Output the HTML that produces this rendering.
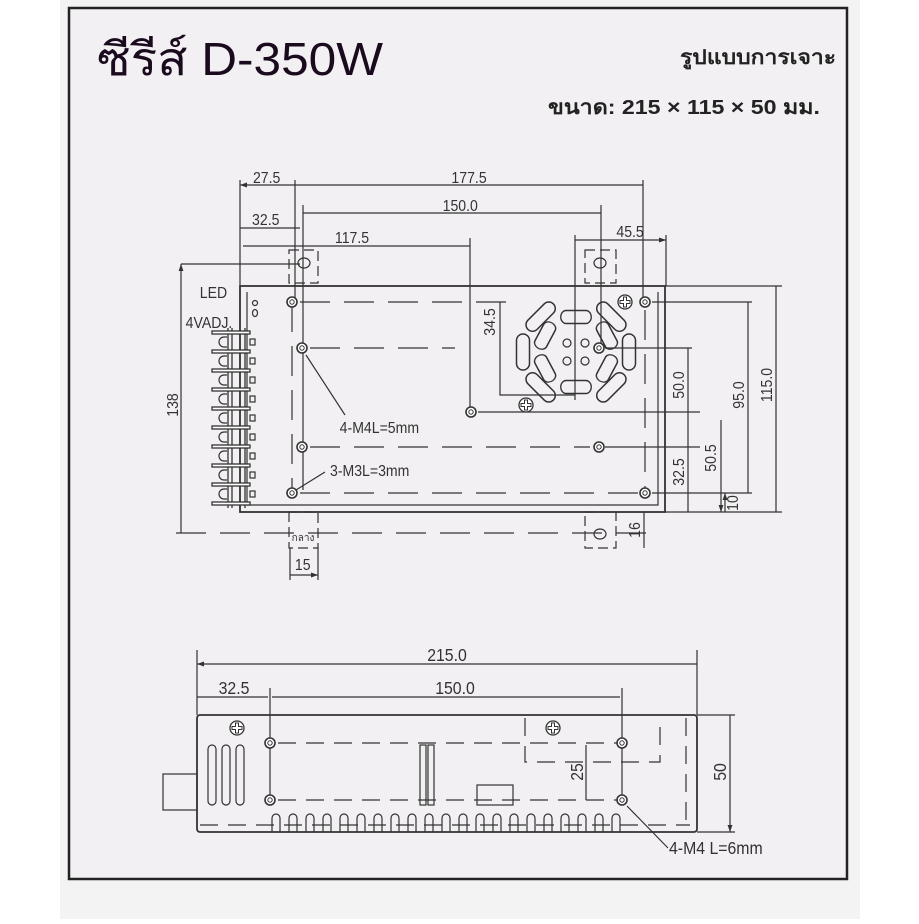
<!DOCTYPE html>
<html><head><meta charset="utf-8"><style>
html,body{margin:0;padding:0;background:#fff;}
body{width:919px;height:919px;overflow:hidden;position:relative;font-family:"Liberation Sans",sans-serif;}
</style></head><body>
<svg width="919" height="919" viewBox="0 0 919 919" xmlns="http://www.w3.org/2000/svg" font-family="Liberation Sans, Noto Sans CJK SC, sans-serif">
<defs>
<marker id="a" viewBox="0 0 10 10" refX="10" refY="5" markerWidth="7" markerHeight="7" orient="auto-start-reverse" markerUnits="userSpaceOnUse"><path d="M0,1.5 L10,5 L0,8.5 z" fill="#333"/></marker>
<g id="hole"><circle r="5" fill="#fff" stroke="#333" stroke-width="1.6"/><circle r="2.2" fill="none" stroke="#333" stroke-width="1"/></g>
<g id="screw"><circle r="7" fill="#fff" stroke="#333" stroke-width="1.3"/><path d="M-1.5,-5h3v3.5h3.5v3h-3.5v3.5h-3v-3.5h-3.5v-3h3.5z" fill="none" stroke="#333" stroke-width="1"/></g>
<rect id="slot" x="-18" y="-6.5" width="36" height="13" rx="6.5" fill="none" stroke="#333" stroke-width="1.5"/>
</defs>
<rect x="60" y="0" width="800" height="919" fill="#f3f3f3"/>
<rect x="69" y="8" width="778" height="871" fill="#f2f0f2" stroke="#222" stroke-width="2.5"/>
<text x="97" y="75" font-size="46" fill="#1a0a1e" textLength="286" lengthAdjust="spacingAndGlyphs" font-family="Liberation Sans, Noto Sans CJK SC, sans-serif">ซีรีส์ D-350W</text>
<text x="680" y="64" font-size="20" font-weight="bold" fill="#222" textLength="156" lengthAdjust="spacingAndGlyphs">รูปแบบการเจาะ</text>
<text x="548" y="114" font-size="20" font-weight="bold" fill="#222" textLength="272" lengthAdjust="spacingAndGlyphs">ขนาด: 215 × 115 × 50 มม.</text>

<g stroke="#333" stroke-width="1.2" fill="none">
<rect x="240" y="286" width="425" height="226" stroke-width="1.8"/>
<path d="M247,292 V505 H658 V292"/>
<path d="M240,180V286 M295,180V300 M643,180V300 M303,205V490 M601,205V350 M470,238V412 M575,235V400 M666,235V286"/>
<path d="M181,264H300 M665,286H782 M665,512H782 M652,302H752 M605,348H692 M478,412H700 M605,447H700 M652,493H752"/>
<path d="M240,185H295 M295,185H643 M303,213H601 M240,228H300 M243,246H470 M575,240H666" marker-start="url(#a)" marker-end="url(#a)"/>
<path d="M181,264V533 M776,286V512 M748,302V493 M688,348V447 M688,447V512 M721,420V512" marker-start="url(#a)" marker-end="url(#a)"/>
<path d="M725,493V512 M644,512V548 M290,575H318" marker-start="url(#a)" marker-end="url(#a)"/>
<path d="M500,302V395H575"/>
<g stroke-dasharray="30,14">
<path d="M300,302H520 M310,348H455 M310,447H590 M300,493H640 M176,533H650 M292,302V493 M645,310V493"/>
</g>
<rect x="289" y="250" width="29" height="33" stroke-dasharray="10,5"/>
<rect x="585" y="250" width="31" height="33" stroke-dasharray="10,5"/>
<rect x="289" y="512" width="29" height="36" stroke-dasharray="10,5"/>
<rect x="585" y="512" width="31" height="36" stroke-dasharray="10,5"/>
<path d="M290,548V580 M318,548V580"/>
<ellipse cx="304" cy="263" rx="6" ry="5"/><ellipse cx="600" cy="263" rx="6" ry="5"/><ellipse cx="600" cy="534" rx="6" ry="5"/>
<g stroke-width="1.3">
<path d="M228,328V508 M232,328V508 M245,328V508"/>
</g>
<circle cx="255" cy="303" r="2.5"/><ellipse cx="255" cy="313" rx="2.5" ry="3.5"/>
<path d="M345,415L306,355 M325,472L296,490 M668,848L627,806"/>
</g>
<g stroke="#333" stroke-width="1.3" fill="#fff">
<rect x="212" y="331" width="38" height="3"/><rect x="212" y="350" width="38" height="3"/><rect x="212" y="369" width="38" height="3"/><rect x="212" y="388" width="38" height="3"/><rect x="212" y="407" width="38" height="3"/><rect x="212" y="426" width="38" height="3"/><rect x="212" y="445" width="38" height="3"/><rect x="212" y="464" width="38" height="3"/><rect x="212" y="483" width="38" height="3"/><rect x="212" y="502" width="38" height="3"/>
</g>
<g fill="none" stroke="#333" stroke-width="1.2">
<path d="M227,337h-3a5,5 0 0 0 0,10h3 M227,356h-3a5,5 0 0 0 0,10h3 M227,375h-3a5,5 0 0 0 0,10h3 M227,394h-3a5,5 0 0 0 0,10h3 M227,413h-3a5,5 0 0 0 0,10h3 M227,432h-3a5,5 0 0 0 0,10h3 M227,451h-3a5,5 0 0 0 0,10h3 M227,470h-3a5,5 0 0 0 0,10h3 M227,489h-3a5,5 0 0 0 0,10h3"/>
<rect x="250" y="339" width="5" height="6"/><rect x="250" y="358" width="5" height="6"/><rect x="250" y="377" width="5" height="6"/><rect x="250" y="396" width="5" height="6"/><rect x="250" y="415" width="5" height="6"/><rect x="250" y="434" width="5" height="6"/><rect x="250" y="453" width="5" height="6"/><rect x="250" y="472" width="5" height="6"/><rect x="250" y="491" width="5" height="6"/>
</g>
<g transform="translate(576,352)">
<use href="#slot" transform="rotate(-45) translate(0,-50)"/>
<use href="#slot" transform="rotate(45) translate(0,-50)"/>
<use href="#slot" transform="rotate(135) translate(0,-50)"/>
<use href="#slot" transform="rotate(-135) translate(0,-50)"/>
<use href="#slot" transform="rotate(90) translate(0,-53)"/>
<use href="#slot" transform="rotate(-90) translate(0,-53)"/>
<use href="#slot" transform="translate(0,-35) scale(0.85,1)"/>
<use href="#slot" transform="translate(0,35) scale(0.85,1)"/>
<use href="#slot" transform="rotate(-62) translate(0,-35) scale(0.8,1)"/>
<use href="#slot" transform="rotate(62) translate(0,-35) scale(0.8,1)"/>
<use href="#slot" transform="rotate(118) translate(0,-35) scale(0.8,1)"/>
<use href="#slot" transform="rotate(-118) translate(0,-35) scale(0.8,1)"/>
<g fill="none" stroke="#333" stroke-width="1.2"><circle cx="-9" cy="-9" r="4"/><circle cx="9" cy="-9" r="4"/><circle cx="-9" cy="9" r="4"/><circle cx="9" cy="9" r="4"/></g>
</g>
<use href="#screw" x="625" y="302"/><use href="#screw" x="526" y="405"/>
<use href="#hole" x="292" y="302"/><use href="#hole" x="645" y="302"/><use href="#hole" x="302" y="348"/><use href="#hole" x="599" y="348"/><use href="#hole" x="471" y="412"/><use href="#hole" x="302" y="447"/><use href="#hole" x="599" y="447"/><use href="#hole" x="292" y="493"/><use href="#hole" x="645" y="493"/>

<g font-size="16" fill="#333" transform="scale(0.88,1)">
<text x="303" y="183" text-anchor="middle">27.5</text>
<text x="533" y="183" text-anchor="middle">177.5</text>
<text x="523" y="211" text-anchor="middle">150.0</text>
<text x="302" y="225" text-anchor="middle">32.5</text>
<text x="400" y="243" text-anchor="middle">117.5</text>
<text x="716" y="237" text-anchor="middle">45.5</text>
<text x="227" y="298">LED</text>
<text x="211" y="328">4VADJ.</text>
<text x="386" y="433">4-M4L=5mm</text>
<text x="375" y="476">3-M3L=3mm</text>
<text x="344" y="570" text-anchor="middle">15</text>
</g>
<text x="303" y="541" font-size="10" fill="#333" text-anchor="middle" font-family="Liberation Sans, Noto Sans CJK SC, sans-serif">กลาง</text>
<g font-size="16" fill="#333" text-anchor="middle">
<text transform="translate(178,405) rotate(-90) scale(0.88,1)">138</text>
<text transform="translate(495,322) rotate(-90) scale(0.88,1)">34.5</text>
<text transform="translate(684,385) rotate(-90) scale(0.88,1)">50.0</text>
<text transform="translate(744,395) rotate(-90) scale(0.88,1)">95.0</text>
<text transform="translate(772,385) rotate(-90) scale(0.88,1)">115.0</text>
<text transform="translate(716,458) rotate(-90) scale(0.88,1)">50.5</text>
<text transform="translate(684,472) rotate(-90) scale(0.88,1)">32.5</text>
<text transform="translate(738,503) rotate(-90) scale(0.88,1)">10</text>
<text transform="translate(640,530) rotate(-90) scale(0.88,1)">16</text>
</g>

<g stroke="#333" stroke-width="1.2" fill="none">
<rect x="197" y="715" width="500" height="117" rx="3" stroke-width="1.8"/>
<rect x="163" y="774" width="34" height="36"/>
<path d="M197,650V715 M697,650V715 M270,688V800 M622,688V800 M697,715H735 M697,832H735"/>
<path d="M197,664H697 M197,697H268 M272,697H620 M586,745V800 M730,715V832" marker-start="url(#a)" marker-end="url(#a)"/>
<rect x="208" y="745" width="8" height="60" rx="4"/><rect x="222" y="745" width="8" height="60" rx="4"/><rect x="236" y="745" width="8" height="60" rx="4"/>
<rect x="420" y="745" width="6" height="60"/><rect x="428" y="745" width="6" height="60"/>
<rect x="477" y="785" width="36" height="20"/>
<g stroke-dasharray="18,10">
<path d="M278,743H620 M278,800H620 M200,825H690 M686,718V825 M525,718V762H660V718"/>
</g>
<path d="M272,832V818a4,4 0 0 1 8,0V832 M289,832V818a4,4 0 0 1 8,0V832 M306,832V818a4,4 0 0 1 8,0V832 M323,832V818a4,4 0 0 1 8,0V832 M340,832V818a4,4 0 0 1 8,0V832 M357,832V818a4,4 0 0 1 8,0V832 M374,832V818a4,4 0 0 1 8,0V832 M391,832V818a4,4 0 0 1 8,0V832 M408,832V818a4,4 0 0 1 8,0V832 M425,832V818a4,4 0 0 1 8,0V832 M442,832V818a4,4 0 0 1 8,0V832 M459,832V818a4,4 0 0 1 8,0V832 M476,832V818a4,4 0 0 1 8,0V832 M493,832V818a4,4 0 0 1 8,0V832 M510,832V818a4,4 0 0 1 8,0V832 M527,832V818a4,4 0 0 1 8,0V832 M544,832V818a4,4 0 0 1 8,0V832 M561,832V818a4,4 0 0 1 8,0V832 M578,832V818a4,4 0 0 1 8,0V832 M595,832V818a4,4 0 0 1 8,0V832 M612,832V818a4,4 0 0 1 8,0V832"/>
</g>
<use href="#screw" x="237" y="728"/><use href="#screw" x="553" y="728"/>
<use href="#hole" x="270" y="743"/><use href="#hole" x="622" y="743"/><use href="#hole" x="270" y="800"/><use href="#hole" x="622" y="800"/>
<g font-size="18" fill="#333" text-anchor="middle">
<text transform="translate(447,661) scale(0.88,1)">215.0</text>
<text transform="translate(234,694) scale(0.88,1)">32.5</text>
<text transform="translate(455,694) scale(0.88,1)">150.0</text>
<text transform="translate(583,772) rotate(-90) scale(0.88,1)">25</text>
<text transform="translate(726,772) rotate(-90) scale(0.88,1)">50</text>
<text transform="translate(669,854) scale(0.88,1)" text-anchor="start">4-M4  L=6mm</text>
</g>
</svg>
</body></html>
